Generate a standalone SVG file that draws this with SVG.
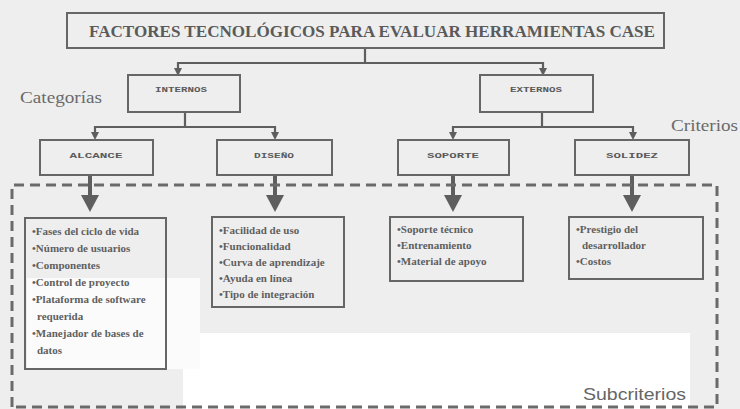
<svg xmlns="http://www.w3.org/2000/svg" width="740" height="409" viewBox="0 0 740 409">
<defs>
<style>
.box{fill:none;stroke:#666;stroke-width:2}
.ln{fill:none;stroke:#5e5e5e;stroke-width:2.2}
.thick{fill:none;stroke:#5e5e5e;stroke-width:4}
.head{fill:#5e5e5e}
.dash{fill:none;stroke:#6a6a6a;stroke-width:3;stroke-dasharray:10 6}
.title{font-family:"Liberation Serif","DejaVu Serif",serif;font-weight:bold;font-size:16px;fill:#5a5a5a}
.cat{font-family:"Liberation Mono","DejaVu Sans Mono",monospace;font-weight:bold;font-size:8px;fill:#5a5a5a}
.sub{font-family:"Liberation Serif","DejaVu Serif",serif;font-weight:bold;font-size:11px;fill:#5f5f5f}
.side{font-family:"Liberation Serif","DejaVu Serif",serif;font-size:17px;fill:#6a6a6a}
.subc{font-family:"Liberation Sans","DejaVu Sans",sans-serif;font-size:17px;fill:#666}
</style>
</defs>
<rect x="0" y="0" width="740" height="409" fill="#eeeeee"/>
<rect x="183" y="333" width="507" height="76" fill="#ffffff"/>
<rect x="27" y="278" width="173" height="91" fill="#fbfbfb"/>

<g id="connectors">
<polyline class="ln" points="365,48 365,63"/>
<polyline class="ln" points="178,69 178,63 543,63 543,69"/>
<polygon class="head" points="174,68 182,68 178,76"/>
<polygon class="head" points="539,68 547,68 543,76"/>
<polyline class="ln" points="185,112 185,127"/>
<polyline class="ln" points="95,133 95,127 275,127 275,133"/>
<polygon class="head" points="91,132 99,132 95,140"/>
<polygon class="head" points="271,132 279,132 275,140"/>
<polyline class="ln" points="542,112 542,127"/>
<polyline class="ln" points="453,133 453,127 633,127 633,133"/>
<polygon class="head" points="449,132 457,132 453,140"/>
<polygon class="head" points="629,132 637,132 633,140"/>
<line class="thick" x1="90" y1="175" x2="90" y2="197"/>
<polygon class="head" points="81,195 99,195 90,212"/>
<line class="thick" x1="275" y1="175" x2="275" y2="197"/>
<polygon class="head" points="266,195 284,195 275,212"/>
<line class="thick" x1="453" y1="175" x2="453" y2="197"/>
<polygon class="head" points="444,195 462,195 453,212"/>
<line class="thick" x1="632" y1="175" x2="632" y2="197"/>
<polygon class="head" points="623,195 641,195 632,212"/>
</g>

<g id="group-box">
<polyline class="dash" points="12,407 12,185 717,185 717,407 12,407"/>
</g>

<g id="title">
<rect class="box" x="67" y="13" width="597" height="35"/>
<text class="title" x="372" y="37" text-anchor="middle" textLength="566" lengthAdjust="spacingAndGlyphs">FACTORES TECNOLÓGICOS PARA EVALUAR HERRAMIENTAS CASE</text>
</g>

<g id="internos">
<rect class="box" x="128" y="75" width="112" height="37"/>
<text class="cat" x="181" y="92" text-anchor="middle" textLength="52" lengthAdjust="spacingAndGlyphs">INTERNOS</text>
</g>
<g id="externos">
<rect class="box" x="480" y="75" width="113" height="37"/>
<text class="cat" x="536" y="92" text-anchor="middle" textLength="52" lengthAdjust="spacingAndGlyphs">EXTERNOS</text>
</g>

<g id="alcance">
<rect class="box" x="40" y="140" width="113" height="35"/>
<text class="cat" x="96" y="158" text-anchor="middle" textLength="53" lengthAdjust="spacingAndGlyphs">ALCANCE</text>
</g>
<g id="diseno">
<rect class="box" x="217" y="140" width="115" height="35"/>
<text class="cat" x="274" y="158" text-anchor="middle" textLength="40" lengthAdjust="spacingAndGlyphs">DISEÑO</text>
</g>
<g id="soporte">
<rect class="box" x="398" y="140" width="111" height="35"/>
<text class="cat" x="453" y="158" text-anchor="middle" textLength="52" lengthAdjust="spacingAndGlyphs">SOPORTE</text>
</g>
<g id="solidez">
<rect class="box" x="575" y="140" width="114" height="35"/>
<text class="cat" x="632" y="158" text-anchor="middle" textLength="52" lengthAdjust="spacingAndGlyphs">SOLIDEZ</text>
</g>

<g id="sub-alcance">
<rect class="box" x="25" y="218" width="141" height="151"/>
<text class="sub" x="32" y="235">•Fases del ciclo de vida</text>
<text class="sub" x="32" y="252">•Número de usuarios</text>
<text class="sub" x="32" y="269">•Componentes</text>
<text class="sub" x="32" y="286">•Control de proyecto</text>
<text class="sub" x="32" y="303">•Plataforma de software</text>
<text class="sub" x="37" y="320">requerida</text>
<text class="sub" x="32" y="337">•Manejador de bases de</text>
<text class="sub" x="37" y="354">datos</text>
</g>

<g id="sub-diseno">
<rect class="box" x="212" y="217" width="132" height="90"/>
<text class="sub" x="219" y="234">•Facilidad de uso</text>
<text class="sub" x="219" y="250">•Funcionalidad</text>
<text class="sub" x="219" y="266">•Curva de aprendizaje</text>
<text class="sub" x="219" y="282">•Ayuda en línea</text>
<text class="sub" x="219" y="298">•Tipo de integración</text>
</g>

<g id="sub-soporte">
<rect class="box" x="390" y="217" width="133" height="64"/>
<text class="sub" x="397" y="233">•Soporte técnico</text>
<text class="sub" x="397" y="249">•Entrenamiento</text>
<text class="sub" x="397" y="265">•Material de apoyo</text>
</g>

<g id="sub-solidez">
<rect class="box" x="569" y="217" width="134" height="62"/>
<text class="sub" x="576" y="233">•Prestigio del</text>
<text class="sub" x="582" y="249">desarrollador</text>
<text class="sub" x="576" y="265">•Costos</text>
</g>

<g id="labels">
<text class="side" x="20" y="103" textLength="82" lengthAdjust="spacingAndGlyphs">Categorías</text>
<text class="side" x="671" y="131" textLength="67" lengthAdjust="spacingAndGlyphs">Criterios</text>
<text class="subc" x="583" y="400" textLength="103" lengthAdjust="spacingAndGlyphs">Subcriterios</text>
</g>
</svg>
